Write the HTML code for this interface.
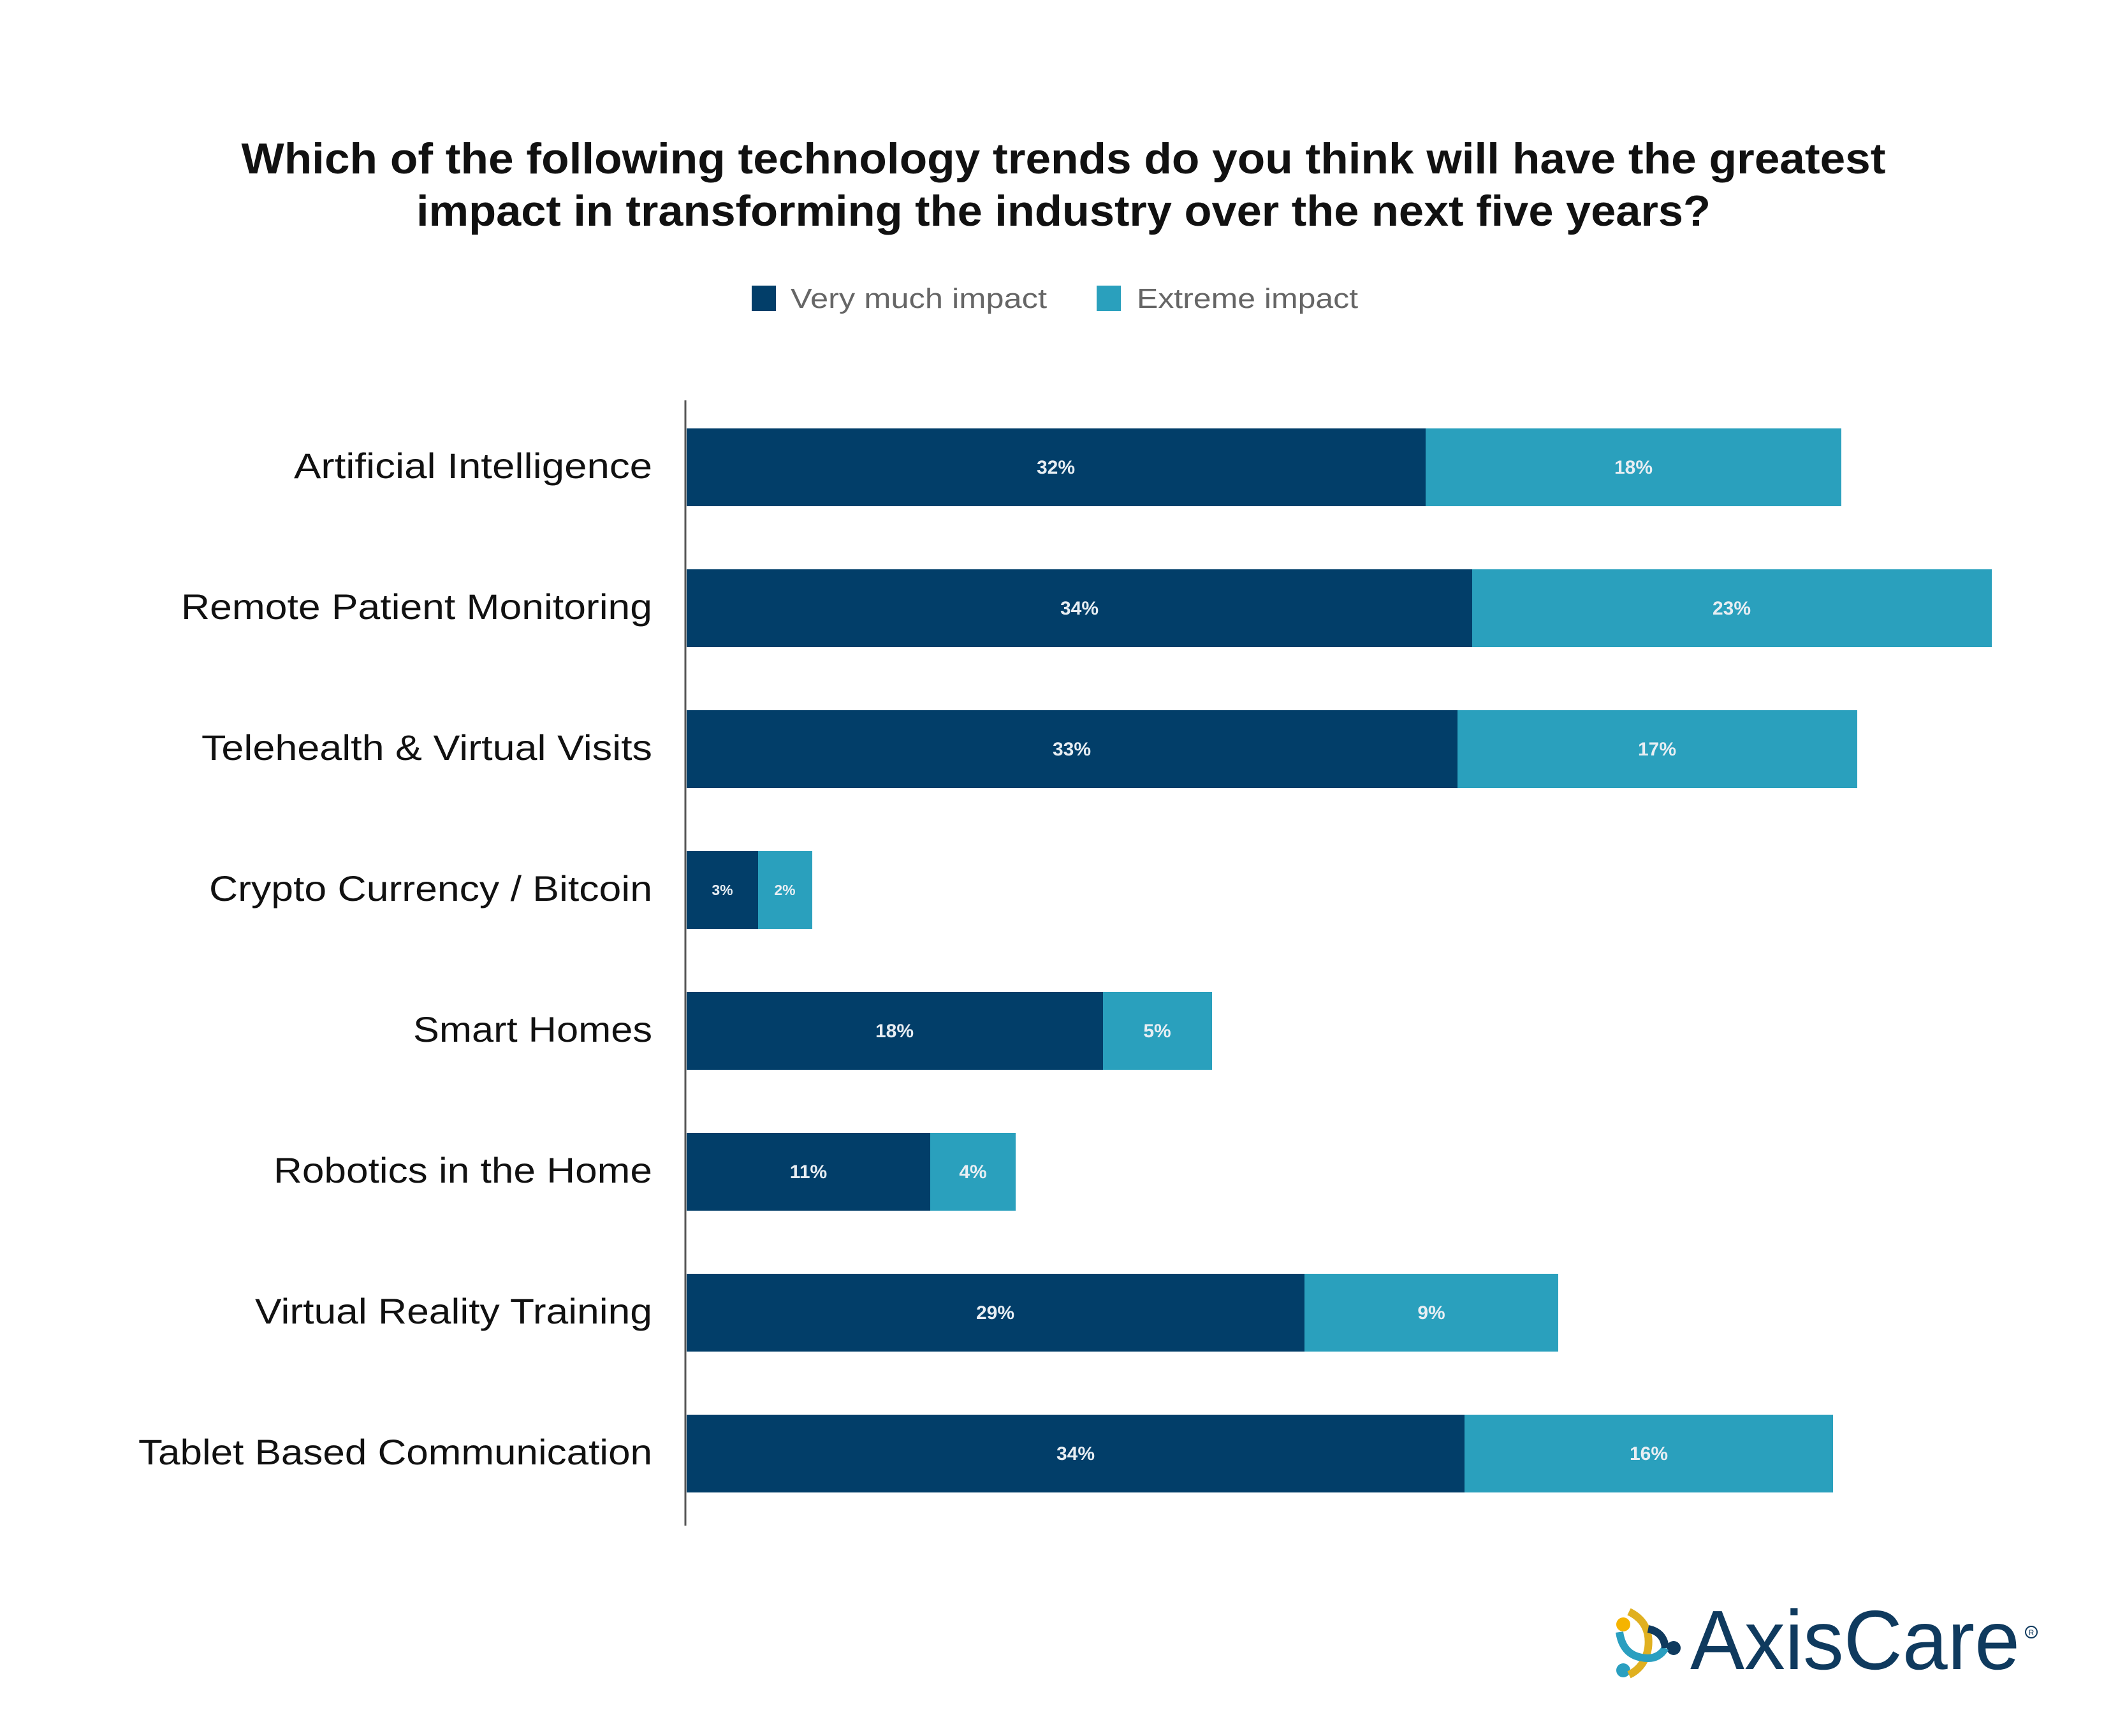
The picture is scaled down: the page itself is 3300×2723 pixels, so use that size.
<!DOCTYPE html>
<html><head><meta charset="utf-8"><style>
html,body{margin:0;padding:0;background:#fff;}
svg{display:block;}
</style></head><body>
<svg width="3300" height="2723" viewBox="0 0 3300 2723" xmlns="http://www.w3.org/2000/svg" font-family="Liberation Sans, sans-serif">
<rect width="3300" height="2723" fill="#fff"/>
<text x="1668" y="272" text-anchor="middle" font-size="68" font-weight="bold" fill="#111" textLength="2579" lengthAdjust="spacingAndGlyphs">Which of the following technology trends do you think will have the greatest</text>
<text x="1668" y="354" text-anchor="middle" font-size="68" font-weight="bold" fill="#111" textLength="2030" lengthAdjust="spacingAndGlyphs">impact in transforming the industry over the next five years?</text>
<rect x="1179" y="448" width="38" height="40" fill="#023e69"/>
<text x="1240" y="483" font-size="44" fill="#666" textLength="402" lengthAdjust="spacingAndGlyphs">Very much impact</text>
<rect x="1720" y="448" width="38" height="40" fill="#2aa0bd"/>
<text x="1783" y="483" font-size="44" fill="#666" textLength="347" lengthAdjust="spacingAndGlyphs">Extreme impact</text>
<line x1="1075" y1="628" x2="1075" y2="2393" stroke="#555" stroke-width="3"/>
<g font-size="56" fill="#111" text-anchor="end" lengthAdjust="spacingAndGlyphs">
<text x="1023" y="750" textLength="562" lengthAdjust="spacingAndGlyphs">Artificial Intelligence</text>
<text x="1023" y="971" textLength="739" lengthAdjust="spacingAndGlyphs">Remote Patient Monitoring</text>
<text x="1023" y="1192" textLength="707" lengthAdjust="spacingAndGlyphs">Telehealth &amp; Virtual Visits</text>
<text x="1023" y="1413" textLength="695" lengthAdjust="spacingAndGlyphs">Crypto Currency / Bitcoin</text>
<text x="1023" y="1634" textLength="375" lengthAdjust="spacingAndGlyphs">Smart Homes</text>
<text x="1023" y="1855" textLength="594" lengthAdjust="spacingAndGlyphs">Robotics in the Home</text>
<text x="1023" y="2076" textLength="623" lengthAdjust="spacingAndGlyphs">Virtual Reality Training</text>
<text x="1023" y="2297" textLength="806" lengthAdjust="spacingAndGlyphs">Tablet Based Communication</text>
</g>
<g>
<rect x="1077" y="672" width="1159" height="122" fill="#023e69"/><rect x="2236" y="672" width="652" height="122" fill="#2aa0bd"/>
<rect x="1077" y="893" width="1232" height="122" fill="#023e69"/><rect x="2309" y="893" width="815" height="122" fill="#2aa0bd"/>
<rect x="1077" y="1114" width="1209" height="122" fill="#023e69"/><rect x="2286" y="1114" width="627" height="122" fill="#2aa0bd"/>
<rect x="1077" y="1335" width="112" height="122" fill="#023e69"/><rect x="1189" y="1335" width="85" height="122" fill="#2aa0bd"/>
<rect x="1077" y="1556" width="653" height="122" fill="#023e69"/><rect x="1730" y="1556" width="171" height="122" fill="#2aa0bd"/>
<rect x="1077" y="1777" width="382" height="122" fill="#023e69"/><rect x="1459" y="1777" width="134" height="122" fill="#2aa0bd"/>
<rect x="1077" y="1998" width="969" height="122" fill="#023e69"/><rect x="2046" y="1998" width="398" height="122" fill="#2aa0bd"/>
<rect x="1077" y="2219" width="1220" height="122" fill="#023e69"/><rect x="2297" y="2219" width="578" height="122" fill="#2aa0bd"/>
</g>
<g font-size="30" font-weight="bold" fill="#e8eef3" text-anchor="middle">
<text x="1656" y="743">32%</text><text x="2562" y="743">18%</text>
<text x="1693" y="964">34%</text><text x="2716" y="964">23%</text>
<text x="1681" y="1185">33%</text><text x="2599" y="1185">17%</text>
<text x="1133" y="1404" font-size="23">3%</text><text x="1231" y="1404" font-size="23">2%</text>
<text x="1403" y="1627">18%</text><text x="1815" y="1627">5%</text>
<text x="1268" y="1848">11%</text><text x="1526" y="1848">4%</text>
<text x="1561" y="2069">29%</text><text x="2245" y="2069">9%</text>
<text x="1687" y="2290">34%</text><text x="2586" y="2290">16%</text>
</g>
<g>
<circle cx="2546" cy="2548" r="11" fill="#f5b400"/>
<circle cx="2546" cy="2620" r="11" fill="#2a9fc0"/>
<circle cx="2625" cy="2585" r="11" fill="#0f3a5e"/>
<path d="M2555 2528 Q2590 2545 2585 2585 Q2580 2615 2555 2627" fill="none" stroke="#e0b020" stroke-width="12"/>
<path d="M2540 2560 Q2545 2595 2575 2600 Q2600 2605 2612 2585" fill="none" stroke="#2a9fc0" stroke-width="12"/>
<path d="M2585 2555 Q2610 2560 2612 2585" fill="none" stroke="#0f3a5e" stroke-width="12"/>
</g>
<text x="2651" y="2618" font-size="132" fill="#0f3a5e" textLength="517" lengthAdjust="spacingAndGlyphs">AxisCare</text>
<circle cx="3186" cy="2560" r="9" fill="none" stroke="#0f3a5e" stroke-width="2"/>
<text x="3186" y="2565" font-size="12" fill="#0f3a5e" text-anchor="middle">R</text>
</svg>
</body></html>
